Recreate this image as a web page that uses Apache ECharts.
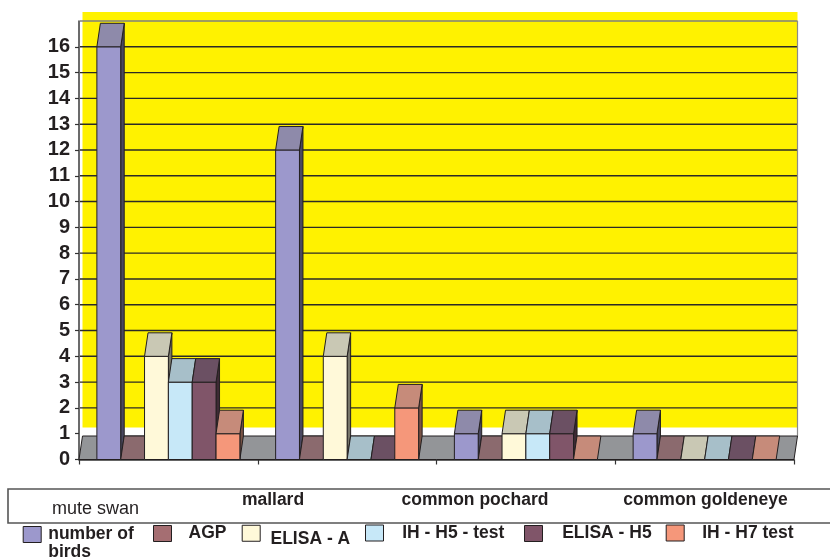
<!DOCTYPE html>
<html>
<head>
<meta charset="utf-8">
<script src="https://cdn.jsdelivr.net/npm/echarts@6/dist/echarts.min.js"></script>
<style>
html,body{margin:0;padding:0;background:#fff;}
#chart{width:830px;height:560px;}
</style>
</head>
<body>
<div id="chart"></div>
<script>
// ---- data ----
const categories = ['mute swan', 'mallard', 'common pochard', 'common goldeneye'];
const seriesNames = ['number of birds', 'AGP', 'ELISA - A', 'IH - H5 - test', 'ELISA - H5', 'IH - H7 test'];
const numberOfBirds = [16, 12, 1, 1];
const agp = [0, 0, 0, 0];
const elisaA = [4, 4, 1, 0];
const ihH5 = [3, 0, 1, 0];
const elisaH5 = [3, 0, 1, 0];
const ihH7 = [1, 2, 0, 0];
const yTicks = [0, 1, 2, 3, 4, 5, 6, 7, 8, 9, 10, 11, 12, 13, 14, 15, 16];

const seriesValues = [numberOfBirds, agp, elisaA, ihH5, elisaH5, ihH7];

// ---- styles ----
const FONT = '"Liberation Sans", Arial, Helvetica, sans-serif';
const INK = '#231F20';
const frontColors = ['#9C98CC', '#A56E72', '#FFF9D9', '#C7E8F8', '#805569', '#F5977A'];
const topColors   = ['#8E8AAA', '#8B6A6E', '#C9C8B4', '#A7BFC9', '#6B5063', '#C68B7A'];
const sideColors  = ['#4A4860', '#4E3538', '#77766A', '#5E6E76', '#3E2A34', '#7A5446'];
const DX = 3.5, DY = -23.5;          // 3D depth offset (px)
const WALL_BOTTOM = 1.24, WALL_TOP = 17.35, AXIS_MAX = 17;

const chart = echarts.init(document.getElementById('chart'), null, {renderer: 'canvas'});

function wallRender(params, api) {
  const n = categories.length;
  const c0 = api.coord([0, 0]);
  const band = api.size([1, 0])[0];
  const xL = c0[0] - band / 2;
  const xR = xL + band * n;
  const y0 = c0[1];
  const yWT = api.coord([0, WALL_TOP])[1];
  const yWB = api.coord([0, WALL_BOTTOM])[1];
  const yMax = api.coord([0, AXIS_MAX])[1];
  const children = [];
  children.push({type: 'rect', shape: {x: xL + DX, y: yWT, width: xR - xL, height: yWB - yWT},
    style: {fill: '#FFF200'}});
  yTicks.forEach(v => {
    if (v > WALL_BOTTOM) {
      const y = api.coord([0, v])[1];
      children.push({type: 'line', shape: {x1: xL + 1, y1: y, x2: xR + DX, y2: y},
        style: {stroke: '#2B2A26', lineWidth: 1.4}});
    }
  });
  children.push({type: 'line', shape: {x1: xL + 1, y1: yMax, x2: xR + DX, y2: yMax},
    style: {stroke: '#7F7F7F', lineWidth: 1.5}});
  children.push({type: 'line', shape: {x1: xR + DX, y1: yMax, x2: xR + DX, y2: y0 + DY},
    style: {stroke: '#8A8A8A', lineWidth: 1.2}});
  // floor
  children.push({type: 'polygon', shape: {points: [[xL, y0], [xR, y0], [xR + DX, y0 + DY], [xL + DX, y0 + DY]]},
    style: {fill: '#939598', stroke: INK, lineWidth: 1}});
  return {type: 'group', children};
}

function makeBarRender(j) {
  const N = seriesNames.length;
  return function (params, api) {
    const i = api.value(0), v = api.value(1);
    const c = api.coord([i, v]);
    const base = api.coord([i, 0]);
    const band = api.size([1, 0])[0];
    const bw = band * 0.8 / N;
    const x0 = c[0] - band * 0.4 + j * bw, x1 = x0 + bw;
    const yT = c[1], yB = base[1];
    const children = [];
    if (v > 0) {
      children.push({type: 'polygon', shape: {points: [[x1, yT], [x1 + DX, yT + DY], [x1 + DX, yB + DY], [x1, yB]]},
        style: {fill: sideColors[j], stroke: INK, lineWidth: 1}});
      children.push({type: 'rect', shape: {x: x0, y: yT, width: bw, height: yB - yT},
        style: {fill: frontColors[j], stroke: INK, lineWidth: 1}});
    }
    children.push({type: 'polygon', shape: {points: [[x0, yT], [x1, yT], [x1 + DX, yT + DY], [x0 + DX, yT + DY]]},
      style: {fill: topColors[j], stroke: INK, lineWidth: 1}});
    return {type: 'group', children};
  };
}

const series = [{
  type: 'custom', name: '_wall', silent: true, clip: false,
  renderItem: wallRender, data: [[0, 0]], encode: {x: 0, y: 1}, z: 1
}];
seriesNames.forEach((name, j) => {
  series.push({
    type: 'custom', name, clip: false, z: 2,
    itemStyle: {color: frontColors[j]},
    renderItem: makeBarRender(j),
    encode: {x: 0, y: 1},
    data: seriesValues[j].map((v, i) => [i, v])
  });
});

// legend layout (one legend per item to mimic the irregular spacing)
const legendLeft = [22.7, 153, 241.7, 365, 524, 665.7];
const legendTop = [507.5, 524.5, 518.5, 524, 524.5, 524];
const legendPadLeft = [2, 12, 5.3, 13.7, 14.7, 13];
const legends = seriesNames.map((name, j) => {
  let text = name, lh = 18;
  if (name === 'number of birds') { text = '\nnumber of\nbirds'; lh = 18; }
  if (name === 'ELISA - A') { text = '\nELISA - A'; lh = 11.5; }
  return {
    data: [{name}],
    left: legendLeft[j], top: legendTop[j], padding: 0,
    itemWidth: 18, itemHeight: 16, icon: 'rect',
    itemStyle: {borderColor: INK, borderWidth: 1},
    formatter: () => text,
    textStyle: {fontSize: 17.5, fontWeight: 'bold', color: INK, fontFamily: FONT, lineHeight: lh,
      padding: [0, 0, 0, legendPadLeft[j]]}
  };
});

// category label box
const labelX = [95.5, 273, 475, 705.5];
const labelY = [509, 500.5, 500.5, 500.5];
const graphic = [{
  type: 'rect', shape: {x: 8, y: 489, width: 840, height: 34},
  style: {fill: 'none', stroke: '#555555', lineWidth: 1.6}, silent: true
}].concat(categories.map((name, i) => ({
  type: 'text', x: labelX[i], y: labelY[i], silent: true,
  style: {
    text: name, fill: INK,
    font: (i === 0 ? 'normal 18px ' : 'bold 17.5px ') + FONT,
    align: 'center', verticalAlign: 'middle'
  }
})));

chart.setOption({
  animation: false,
  backgroundColor: '#ffffff',
  grid: {left: 79, right: 36, top: 21, bottom: 100.5, containLabel: false},
  xAxis: {
    type: 'category', data: categories, boundaryGap: true,
    axisLine: {show: true, lineStyle: {color: '#333333', width: 1.5}},
    axisTick: {show: true, length: 5, lineStyle: {color: '#333333', width: 1.2}},
    axisLabel: {show: false}, splitLine: {show: false}
  },
  yAxis: {
    type: 'value', min: 0, max: AXIS_MAX, interval: 1,
    axisLine: {show: true, lineStyle: {color: '#3A3A3A', width: 1.5}},
    axisTick: {show: true, length: 4, inside: false, customValues: yTicks, lineStyle: {color: '#333333', width: 1.2}},
    axisLabel: {
      show: true, customValues: yTicks, margin: 9,
      fontSize: 20, fontWeight: 'bold', color: INK, fontFamily: FONT
    },
    splitLine: {show: false}
  },
  legend: legends,
  graphic,
  series
});
</script>
</body>
</html>
